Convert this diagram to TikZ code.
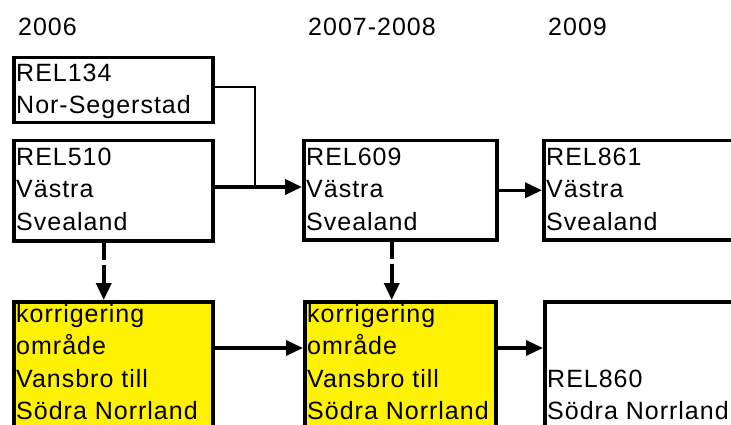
\documentclass[tikz,border=0pt]{standalone}
\usepackage{fontspec}
\setmainfont[LetterSpace=4]{Liberation Sans}
\usetikzlibrary{arrows.meta}
\begin{document}
\begin{tikzpicture}[x=1pt,y=-1pt,
  box/.style={draw, line width=3.5pt, inner sep=0pt, anchor=north west},
  yelbox/.style={box, fill=yellow},
  txt/.style={anchor=base west, inner sep=0pt, font=\fontsize{25}{33}\selectfont},
  arr/.style={line width=3.5pt, -{Triangle[length=17pt,width=15pt]}},
  dasharr/.style={arr, dash pattern=on 17pt off 5pt on 60pt},
  link/.style={line width=2pt}]
\useasboundingbox (0,0) rectangle (731,425);
\clip (0,0) rectangle (731,425);
% years
\node[txt] (y2006) at (18,36) {2006};
\node[txt] (y2007) at (308,36) {2007-2008};
\node[txt] (y2009) at (548,36) {2009};
% boxes
\node[box, minimum width=199pt, minimum height=65pt] (b134) at (12,56) {};
\node[box, minimum width=199pt, minimum height=100pt] (b510) at (12,139) {};
\node[box, minimum width=193pt, minimum height=99pt] (b609) at (302,139) {};
\node[box, minimum width=250pt, minimum height=99pt] (b861) at (542,139) {};
\node[yelbox, minimum width=199pt, minimum height=200pt] (k1) at (12,300) {};
\node[yelbox, minimum width=191pt, minimum height=200pt] (k2) at (303,300) {};
\node[box, minimum width=250pt, minimum height=200pt] (b860) at (543,300) {};
% texts
\node[txt] (t134a) at (16,82) {REL134};
\node[txt] (t134b) at (16,114) {Nor-Segerstad};
\node[txt] (t510a) at (16,165) {REL510};
\node[txt] (t510b) at (16,197) {Västra};
\node[txt] (t510c) at (16,230) {Svealand};
\node[txt] (t609a) at (306,165) {REL609};
\node[txt] (t609b) at (306,197) {Västra};
\node[txt] (t609c) at (306,230) {Svealand};
\node[txt] (t861a) at (546,165) {REL861};
\node[txt] (t861b) at (546,197) {Västra};
\node[txt] (t861c) at (546,230) {Svealand};
\node[txt] (k1a) at (16,322) {korrigering};
\node[txt] (k1b) at (16,354) {område};
\node[txt] (k1c) at (16,387) {Vansbro till};
\node[txt] (k1d) at (16,419) {Södra Norrland};
\node[txt] (k2a) at (307,322) {korrigering};
\node[txt] (k2b) at (307,354) {område};
\node[txt] (k2c) at (307,387) {Vansbro till};
\node[txt] (k2d) at (307,419) {Södra Norrland};
\node[txt] (t860a) at (547,387) {REL860};
\node[txt] (t860b) at (547,419) {Södra Norrland};
% connectors
\coordinate (j) at (255,187);
\coordinate (r2) at (0,348);
\draw[link] ([yshift=3.5pt]b134.east) -| (j);
\draw[arr] (b510.east |- j) -- (b609.west |- j);
\draw[arr] (b609.east) -- (b861.west);
\draw[dasharr] ([xshift=-9.5pt]b510.south) -- ([xshift=-9.5pt]k1.north);
\draw[dasharr] ([xshift=-8.5pt]b609.south) -- ([xshift=-8.5pt]k2.north);
\draw[arr] (k1.east |- r2) -- (k2.west |- r2);
\draw[arr] (k2.east |- r2) -- (b860.west |- r2);
\end{tikzpicture}
\end{document}
